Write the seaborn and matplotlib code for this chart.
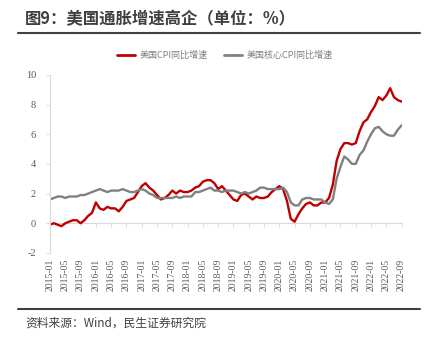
import numpy as np
import pandas as pd
import matplotlib
matplotlib.use("Agg")
import matplotlib.pyplot as plt
import seaborn as sns
from matplotlib.lines import Line2D

months = pd.period_range("2015-01", "2022-09", freq="M").strftime("%Y-%m").tolist()

cpi = [-0.1, 0.0, -0.1, -0.2, 0.0, 0.1, 0.2, 0.2, 0.0, 0.2, 0.5, 0.7,
       1.4, 1.0, 0.9, 1.1, 1.0, 1.0, 0.8, 1.1, 1.5, 1.6, 1.7, 2.1,
       2.5, 2.7, 2.4, 2.2, 1.9, 1.6, 1.7, 1.9, 2.2, 2.0, 2.2, 2.1,
       2.1, 2.2, 2.4, 2.5, 2.8, 2.9, 2.9, 2.7, 2.3, 2.5, 2.2, 1.9,
       1.6, 1.5, 1.9, 2.0, 1.8, 1.6, 1.8, 1.7, 1.7, 1.8, 2.1, 2.3,
       2.5, 2.3, 1.5, 0.3, 0.1, 0.6, 1.0, 1.3, 1.4, 1.2, 1.2, 1.4,
       1.4, 1.7, 2.6, 4.2, 5.0, 5.4, 5.4, 5.3, 5.4, 6.2, 6.8, 7.0,
       7.5, 7.9, 8.5, 8.3, 8.6, 9.1, 8.5, 8.3, 8.2]

core = [1.6, 1.7, 1.8, 1.8, 1.7, 1.8, 1.8, 1.8, 1.9, 1.9, 2.0, 2.1,
        2.2, 2.3, 2.2, 2.1, 2.2, 2.2, 2.2, 2.3, 2.2, 2.1, 2.1, 2.2,
        2.3, 2.2, 2.0, 1.9, 1.7, 1.7, 1.7, 1.7, 1.7, 1.8, 1.7, 1.8,
        1.8, 1.8, 2.1, 2.1, 2.2, 2.3, 2.4, 2.2, 2.2, 2.1, 2.2, 2.2,
        2.2, 2.1, 2.0, 2.1, 2.0, 2.1, 2.2, 2.4, 2.4, 2.3, 2.3, 2.3,
        2.3, 2.4, 2.1, 1.4, 1.2, 1.2, 1.6, 1.7, 1.7, 1.6, 1.6, 1.6,
        1.4, 1.3, 1.6, 3.0, 3.8, 4.5, 4.3, 4.0, 4.0, 4.6, 4.9, 5.5,
        6.0, 6.4, 6.5, 6.2, 6.0, 5.9, 5.9, 6.3, 6.6]

series_names = ["美国CPI同比增速", "美国核心CPI同比增速"]
colors = ["#C00000", "#808080"]
yticks = [-2, 0, 2, 4, 6, 8, 10]
title = "图9：美国通胀增速高企（单位：%）"
source = "资料来源：Wind，民生证券研究院"

sns.set_style("white")
plt.rcParams["font.family"] = ["Noto Sans CJK SC", "DejaVu Sans"]

n = len(months)
df = pd.DataFrame({
    "idx": list(range(n)) * 2,
    "value": cpi + core,
    "series": [series_names[0]] * n + [series_names[1]] * n,
})

fig = plt.figure(figsize=(4.33, 3.45), dpi=100)
ax = fig.add_axes([0.1155, 0.267, 0.812, 0.516])

sns.lineplot(data=df, x="idx", y="value", hue="series", palette=colors,
             linewidth=1.7, ax=ax, legend=False)

ax.set_xlim(0, n - 1)
ax.set_ylim(-2, 10)
ax.set_yticks(yticks)
ax.set_yticklabels([str(t) for t in yticks], family="Liberation Serif",
                   fontsize=7.5, color="#595959")
tick_idx = list(range(0, n, 4))
ax.set_xticks(tick_idx)
ax.set_xticklabels([months[i] for i in tick_idx], rotation=90,
                   family="Liberation Serif", fontsize=7, color="#595959")
ax.tick_params(axis="x", length=0, pad=4)
ax.tick_params(axis="y", length=3, width=0.6, color="#d9d9d9", pad=7, left=True)
ax.set_xlabel("")
ax.set_ylabel("")
for s in ["top", "right", "bottom"]:
    ax.spines[s].set_visible(False)
ax.spines["left"].set_color("#d9d9d9")
ax.spines["left"].set_linewidth(0.8)

# zero axis with ticks
sec = ax.secondary_xaxis(1 / 6)
sec.set_xticks(tick_idx)
sec.set_xticklabels([])
sec.tick_params(axis="x", direction="out", length=3, width=0.6, color="#d9d9d9")
sec.spines["bottom"].set_color("#d9d9d9")
sec.spines["bottom"].set_linewidth(0.8)
for s in ["top", "left", "right"]:
    sec.spines[s].set_visible(False)

handles = [Line2D([], [], color=c, linewidth=2) for c in colors]
leg = fig.legend(handles, series_names, loc="center", bbox_to_anchor=(0.52, 0.84),
                 ncol=2, frameon=False, fontsize=6.5, handlelength=2.0,
                 columnspacing=1.8, handletextpad=0.5)
for t in leg.get_texts():
    t.set_color("#7f7f7f")

fig.text(0.058, 0.945, title, fontsize=11.8, fontweight="bold", color="#404040",
         va="center", ha="left")
fig.add_artist(Line2D([0.042, 0.97], [0.905, 0.905], color="#404040", linewidth=1.5))
fig.add_artist(Line2D([0.042, 0.97], [0.105, 0.105], color="#404040", linewidth=1.5))
fig.text(0.058, 0.063, source, fontsize=8.5, color="#404040", va="center", ha="left")

fig.savefig("out.png", dpi=100, facecolor="white")
